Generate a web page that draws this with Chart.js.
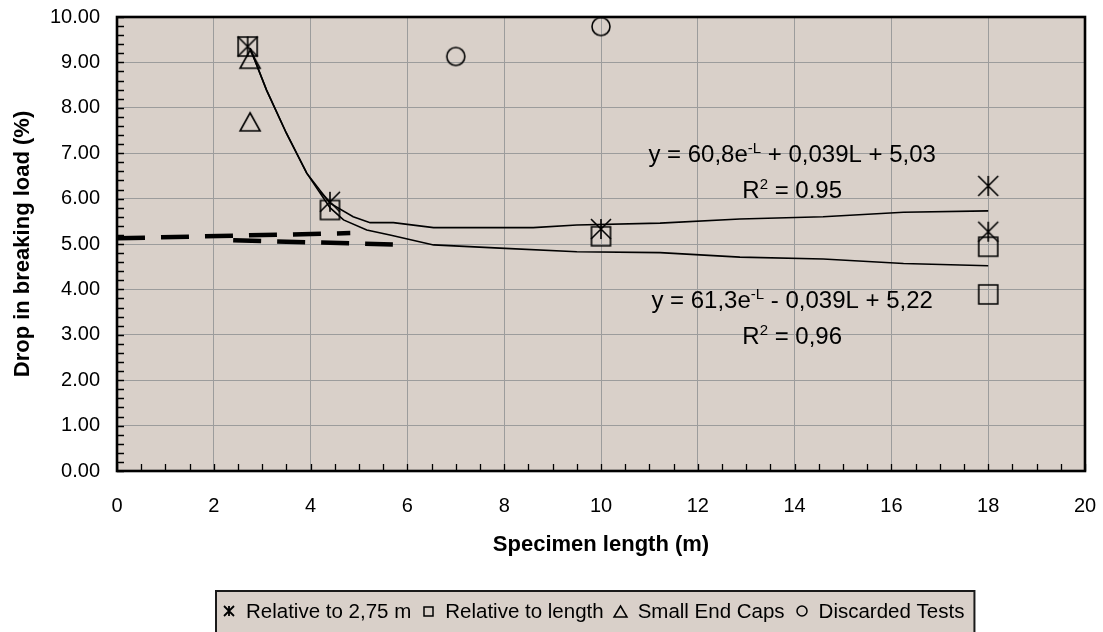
<!DOCTYPE html>
<html>
<head>
<meta charset="utf-8">
<script src="https://cdn.jsdelivr.net/npm/chart.js@4.4.1/dist/chart.umd.min.js"></script>
<style>
  html, body { margin: 0; background: #fff; }
  canvas { display: block; }
</style>
</head>
<body>
<canvas id="chart" width="1103" height="632"></canvas>
<script>
const xTicks = [0, 2, 4, 6, 8, 10, 12, 14, 16, 18, 20];
const yTicks = [0, 1, 2, 3, 4, 5, 6, 7, 8, 9, 10];

const seriesNames = ["Relative to 2,75 m", "Relative to length", "Small End Caps", "Discarded Tests"];

// measured points
const rel275X = [2.7, 4.4, 10, 18, 18];
const rel275Y = [9.35, 5.93, 5.33, 6.28, 5.27];
const relLenX = [2.7, 4.4, 10, 18, 18];
const relLenY = [9.35, 5.75, 5.17, 4.94, 3.89];
const capsX = [2.75, 2.75];
const capsY = [9.07, 7.69];
const discX = [7, 10];
const discY = [9.13, 9.79];

// fitted curves
const fitUpX = [2.75, 3.09, 3.5, 3.92, 4.4, 4.88, 5.23, 5.71, 6.54, 7.91, 8.6, 9.5, 11.22, 12.87, 14.59, 16.25, 18];
const fitUpY = [9.31, 8.39, 7.44, 6.56, 5.9, 5.6, 5.47, 5.47, 5.36, 5.36, 5.36, 5.42, 5.46, 5.55, 5.6, 5.7, 5.73];
const fitLowX = [2.75, 3.09, 3.5, 3.92, 4.4, 4.68, 5.16, 5.64, 6.54, 7.91, 9.5, 11.22, 12.87, 14.59, 16.25, 18];
const fitLowY = [9.31, 8.39, 7.44, 6.56, 5.8, 5.53, 5.31, 5.2, 4.98, 4.91, 4.83, 4.81, 4.71, 4.67, 4.57, 4.52];

// dashed lines near 5 %
const dashAX = [0, 4.82];
const dashAY = [5.125, 5.24];
const dashBX = [2.4, 5.7];
const dashBY = [5.08, 4.99];

const equations = [
  { x: 13.95, y: 7.0, parts: [["y = 60,8e"], ["-L", true], [" + 0,039L + 5,03"]] },
  { x: 13.95, y: 6.21, parts: [["R"], ["2", true], [" = 0.95"]] },
  { x: 13.95, y: 3.77, parts: [["y = 61,3e"], ["-L", true], [" - 0,039L + 5,22"]] },
  { x: 13.95, y: 2.98, parts: [["R"], ["2", true], [" = 0,96"]] }
];

const FAMILY = '"Liberation Sans", Arial, sans-serif';
const PLOT_BG = "#d9d0c9";
const GRID = "#9c9c9c";
const EQ_SIZE = 24;

const zip = (xs, ys) => xs.map((x, i) => ({ x, y: ys[i] }));

function marker(kind, w, h, lw) {
  const c = document.createElement("canvas");
  const pad = Math.ceil(lw) + 1;
  c.width = w + pad * 2;
  c.height = h + pad * 2;
  const g = c.getContext("2d");
  g.strokeStyle = "#000";
  g.lineWidth = lw;
  g.translate(pad, pad);
  g.beginPath();
  if (kind === "star") {
    g.moveTo(0, 0); g.lineTo(w, h);
    g.moveTo(w, 0); g.lineTo(0, h);
    g.moveTo(w / 2, 0); g.lineTo(w / 2, h);
  } else if (kind === "rect") {
    g.rect(0, 0, w, h);
  } else if (kind === "tri") {
    g.moveTo(w / 2, 0); g.lineTo(w, h); g.lineTo(0, h); g.closePath();
  } else {
    g.arc(w / 2, h / 2, w / 2, 0, Math.PI * 2);
  }
  g.stroke();
  return c;
}

const plotMarkers = [
  marker("star", 20, 20, 1.6),
  marker("rect", 19, 19, 1.6),
  marker("tri", 20, 18, 1.6),
  marker("circ", 18, 18, 1.6)
];
const legendMarkers = [
  marker("star", 10, 10, 1.8),
  marker("rect", 9, 9, 1.5),
  marker("tri", 13, 11, 1.5),
  marker("circ", 10, 10, 1.5)
];

function drawRich(ctx, parts, cx, cy) {
  const main = EQ_SIZE + "px " + FAMILY, sup = "15px " + FAMILY;
  let w = 0;
  parts.forEach(p => { ctx.font = p[1] ? sup : main; w += ctx.measureText(p[0]).width; });
  let x = cx - w / 2;
  const base = cy + EQ_SIZE * 0.716 / 2;
  ctx.textBaseline = "alphabetic";
  ctx.textAlign = "left";
  parts.forEach(p => {
    ctx.font = p[1] ? sup : main;
    ctx.fillText(p[0], x, p[1] ? base - 9 : base);
    x += ctx.measureText(p[0]).width;
  });
}

const decor = {
  id: "decor",
  beforeDraw(chart) {
    const { ctx, chartArea: a } = chart;
    ctx.save();
    ctx.fillStyle = PLOT_BG;
    ctx.fillRect(a.left, a.top, a.right - a.left, a.bottom - a.top);
    ctx.restore();
  },
  beforeDatasetsDraw(chart) {
    const { ctx, chartArea: a, scales: { x, y } } = chart;
    ctx.save();
    ctx.strokeStyle = "#000";
    ctx.lineWidth = 1.3;
    ctx.beginPath();
    for (let v = 0; v <= 10.001; v += 0.2) {
      const py = Math.round(y.getPixelForValue(v)) + 0.5;
      ctx.moveTo(a.left, py); ctx.lineTo(a.left + 7, py);
    }
    for (let v = 0; v <= 20.001; v += 0.5) {
      const px = Math.round(x.getPixelForValue(v)) + 0.5;
      ctx.moveTo(px, a.bottom); ctx.lineTo(px, a.bottom - 7);
    }
    ctx.stroke();
    ctx.lineWidth = 2.6;
    ctx.strokeRect(a.left, a.top, a.right - a.left, a.bottom - a.top);

    ctx.fillStyle = "#000";
    equations.forEach(e => drawRich(ctx, e.parts, x.getPixelForValue(e.x), y.getPixelForValue(e.y)));
    ctx.restore();
  },
  afterDraw(chart) {
    const { ctx, chartArea: a } = chart;
    const top = chart.scales.x.bottom;
    ctx.save();
    ctx.font = "20.5px " + FAMILY;
    const symSlot = 23, gap = 11, padL = 7, padR = 10;
    const widths = seriesNames.map(t => ctx.measureText(t).width);
    const inner = widths.reduce((s, w) => s + symSlot + w, 0) + gap * (seriesNames.length - 1);
    const boxW = padL + inner + padR;
    const left = Math.round((a.left + a.right) / 2 - boxW / 2 - 6);
    ctx.fillStyle = PLOT_BG;
    ctx.fillRect(left, top, boxW, 60);
    ctx.strokeStyle = "#1a1a1a";
    ctx.lineWidth = 2;
    ctx.strokeRect(left, top, boxW, 60);
    const midY = top + 20;
    let x = left + padL;
    ctx.fillStyle = "#000";
    ctx.textBaseline = "alphabetic";
    ctx.textAlign = "left";
    seriesNames.forEach((t, i) => {
      const m = legendMarkers[i];
      ctx.drawImage(m, Math.round(x + 6 - m.width / 2), Math.round(midY - m.height / 2));
      ctx.fillText(t, x + symSlot, midY + 20.5 * 0.716 / 2);
      x += symSlot + widths[i] + gap;
    });
    ctx.restore();
  }
};

const lineDs = (xs, ys, extra) => Object.assign({
  data: zip(xs, ys),
  showLine: true,
  borderColor: "#000",
  borderWidth: 1.6,
  pointRadius: 0,
  tension: 0,
  fill: false
}, extra);

const pointDs = (label, xs, ys, style) => ({
  label,
  data: zip(xs, ys),
  showLine: false,
  pointStyle: style,
  pointRadius: 10,
  borderColor: "#000",
  backgroundColor: "transparent"
});

new Chart(document.getElementById("chart"), {
  type: "scatter",
  data: {
    datasets: [
      lineDs(fitUpX, fitUpY),
      lineDs(fitLowX, fitLowY),
      lineDs(dashAX, dashAY, { borderWidth: 4.5, borderDash: [28, 16] }),
      lineDs(dashBX, dashBY, { borderWidth: 4.5, borderDash: [28, 16] }),
      pointDs(seriesNames[3], discX, discY, plotMarkers[3]),
      pointDs(seriesNames[2], capsX, capsY, plotMarkers[2]),
      pointDs(seriesNames[1], relLenX, relLenY, plotMarkers[1]),
      pointDs(seriesNames[0], rel275X, rel275Y, plotMarkers[0])
    ]
  },
  options: {
    responsive: false,
    animation: false,
    devicePixelRatio: 1,
    layout: { padding: { top: 17, right: 18, bottom: 41, left: 0 } },
    plugins: {
      legend: { display: false },
      tooltip: { enabled: false }
    },
    scales: {
      x: {
        type: "linear",
        min: 0,
        max: 20,
        afterBuildTicks: (s) => { s.ticks = xTicks.map(v => ({ value: v })); },
        afterFit: (s) => { s.height = 120; s.paddingLeft = 0; s.paddingRight = 0; },
        grid: { color: GRID, lineWidth: 1, drawTicks: false },
        border: { display: false },
        ticks: { color: "#000", padding: 23, maxRotation: 0, font: { family: FAMILY, size: 20 } },
        title: {
          display: true,
          text: "Specimen length (m)",
          color: "#000",
          font: { family: FAMILY, size: 22, weight: "bold" },
          padding: { top: 0, bottom: 33 }
        }
      },
      y: {
        type: "linear",
        min: 0,
        max: 10,
        afterBuildTicks: (s) => { s.ticks = yTicks.map(v => ({ value: v })); },
        afterFit: (s) => { s.width = 117; s.paddingTop = 0; s.paddingBottom = 0; },
        grid: { color: GRID, lineWidth: 1, drawTicks: false },
        border: { display: false },
        ticks: { color: "#000", padding: 17, font: { family: FAMILY, size: 20 }, callback: (v) => Number(v).toFixed(2) },
        title: {
          display: true,
          text: "Drop in breaking load (%)",
          color: "#000",
          font: { family: FAMILY, size: 22, weight: "bold" },
          padding: { top: 10, bottom: 0 }
        }
      }
    }
  },
  plugins: [decor]
});
</script>
</body>
</html>
